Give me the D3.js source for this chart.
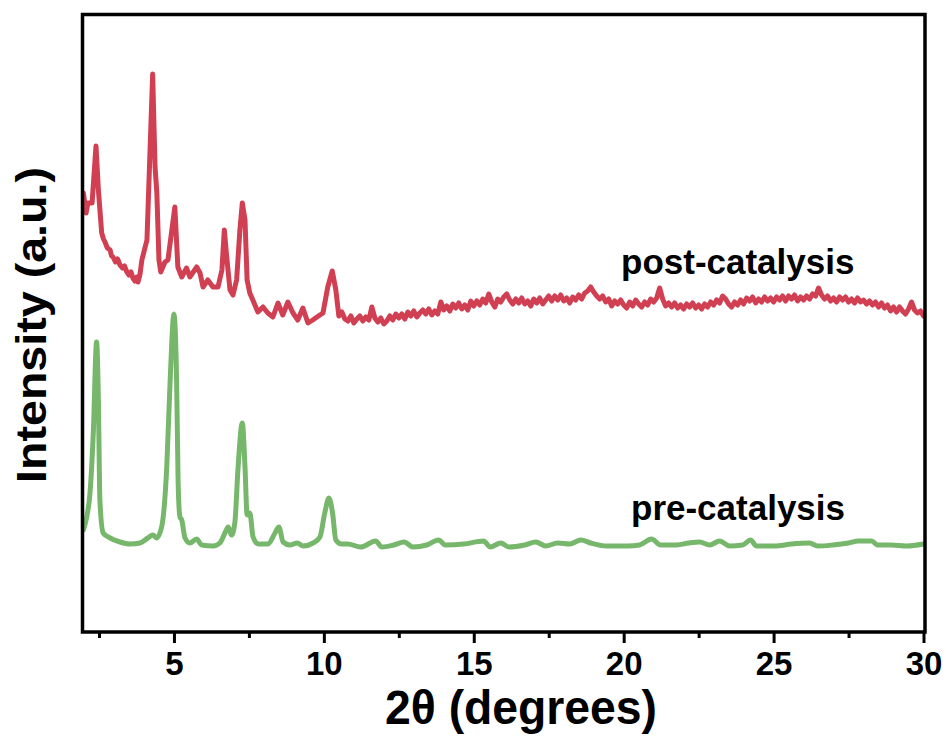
<!DOCTYPE html>
<html>
<head>
<meta charset="utf-8">
<script src="https://cdn.jsdelivr.net/npm/d3@7"></script>
<style>
  html, body { margin: 0; padding: 0; background: #fff; }
  svg { display: block; }
  text { font-family: "Liberation Sans", Arial, Helvetica, sans-serif; font-weight: bold; fill: #000; }
</style>
</head>
<body>
<svg id="chart" width="946" height="738"></svg>
<script>
// ---- Data ----
const postTheta = [1.98,2.07,2.13,2.27,2.40,2.48,2.59,2.65,2.70,2.78,2.87,2.92,2.97,3.05,3.12,3.20,3.28,3.35,3.43,3.50,3.57,3.63,3.70,3.76,3.80,3.87,3.93,4.10,4.29,4.37,4.43,4.50,4.56,4.70,4.80,5.03,5.13,5.26,5.42,5.53,5.76,5.87,5.97,6.13,6.30,6.47,6.60,6.68,6.76,6.87,6.97,7.09,7.20,7.28,7.37,7.44,7.53,7.63,7.80,7.97,8.13,8.30,8.47,8.63,8.80,8.97,9.13,9.30,9.47,9.63,9.77,9.97,10.13,10.28,10.40,10.50,10.6,10.7,10.8,10.9,11.0,11.1,11.2,11.3,11.4,11.5,11.6,11.7,11.8,11.9,12.0,12.1,12.2,12.3,12.4,12.5,12.6,12.7,12.8,12.9,13.0,13.1,13.2,13.3,13.4,13.5,13.6,13.7,13.8,13.9,14.0,14.1,14.2,14.3,14.4,14.5,14.6,14.7,14.8,14.9,15.0,15.1,15.2,15.3,15.4,15.5,15.6,15.7,15.8,15.9,16.0,16.1,16.2,16.3,16.4,16.5,16.6,16.7,16.8,16.9,17.0,17.1,17.2,17.3,17.4,17.5,17.6,17.7,17.8,17.9,18.0,18.1,18.2,18.3,18.4,18.5,18.6,18.7,18.8,18.9,19.0,19.1,19.2,19.3,19.4,19.5,19.6,19.7,19.8,19.9,20.0,20.1,20.2,20.3,20.4,20.5,20.6,20.7,20.8,20.9,21.0,21.1,21.2,21.3,21.4,21.5,21.6,21.7,21.8,21.9,22.0,22.1,22.2,22.3,22.4,22.5,22.6,22.7,22.8,22.9,23.0,23.1,23.2,23.3,23.4,23.5,23.6,23.7,23.8,23.9,24.0,24.1,24.2,24.3,24.4,24.5,24.6,24.7,24.8,24.9,25.0,25.1,25.2,25.3,25.4,25.5,25.6,25.7,25.8,25.9,26.0,26.1,26.2,26.3,26.4,26.5,26.6,26.7,26.8,26.9,27.0,27.1,27.2,27.3,27.4,27.5,27.6,27.7,27.8,27.9,28.0,28.1,28.2,28.3,28.4,28.5,28.6,28.7,28.8,28.9,29.0,29.1,29.2,29.3,29.4,29.5,29.6,29.7,29.8,29.9,30.0];
const postIntensity = [439,419,429,429,486,442,399,393,390,384,382,376,375,370,373,367,364,366,360,357,360,354,351,355,350,358,372,392,558,465,439,372,360,370,372,425,365,355,364,355,365,359,345,352,345,345,362,402,375,342,337,352,402,429,412,352,339,332,320,325,319,315,329,317,330,319,312,324,309,312,315,319,345,361,342,316,320,313,311,316,309,313,316,311,315,312,325,314,310,314,308,311,316,312,318,314,318,313,320,316,321,315,319,322,318,323,317,321,318,330,322,326,321,328,324,329,323,327,322,331,326,331,327,333,329,338,330,325,333,330,335,338,332,328,333,329,334,328,331,326,333,329,334,328,332,336,331,336,332,337,331,334,329,335,332,337,333,339,341,345,340,336,333,336,330,333,326,331,328,332,327,324,330,326,332,328,325,330,327,333,330,334,344,333,326,329,325,329,324,327,323,328,325,329,324,327,323,328,325,330,327,332,329,336,333,328,325,330,327,332,328,334,331,335,329,333,330,335,331,334,330,335,332,336,331,336,333,337,331,335,332,336,333,338,336,344,337,333,336,331,334,330,335,332,335,330,333,329,334,330,332,328,331,327,330,325,329,324,327,321,325,320,325,321,318,323,330,322,319,321,316];

const preTheta = [1.98,2.09,2.20,2.31,2.42,2.48,2.53,2.64,2.87,3.20,3.53,3.87,4.13,4.30,4.42,4.59,4.76,4.87,5.00,5.09,5.14,5.20,5.26,5.37,5.53,5.76,5.92,6.31,6.53,6.70,6.81,6.92,7.03,7.14,7.28,7.37,7.44,7.53,7.64,7.81,8.14,8.37,8.50,8.64,8.87,9.11,9.31,9.64,9.87,10.03,10.17,10.29,10.40,10.59,10.80,11.23,11.73,11.93,12.33,12.68,12.97,13.43,13.83,14.05,14.67,15.33,15.55,15.90,16.17,16.70,17.07,17.40,17.80,18.20,18.57,18.90,19.43,20.13,20.53,20.93,21.23,21.77,22.17,22.53,22.87,23.20,23.53,23.97,24.23,24.43,25.03,25.60,26.20,26.47,26.97,27.50,27.83,28.27,28.47,28.93,29.43,30.00];
const preIntensity = [102,115,139,199,290,232,132,99,94,90,88,89,94,97,94,105,165,249,318,249,149,115,112,94,89,93,87,86,89,99,105,97,109,165,209,165,117,119,95,88,88,99,105,90,87,89,86,89,95,119,134,119,92,88,88,85,91,85,87,90,85,87,92,87,88,91,85,89,85,87,90,86,89,88,92,89,86,86,87,93,87,87,89,90,87,91,86,87,92,86,86,88,89,86,87,89,91,91,87,87,86,88];

const xMajorTicks = [5, 10, 15, 20, 25, 30];
const xMinorTicks = [2.5, 7.5, 12.5, 17.5, 22.5, 27.5];
const seriesNames = ["post-catalysis", "pre-catalysis"];
const seriesColors = ["#d03f52", "#76b76c"];
const xTitle = "2θ (degrees)";
const yTitle = "Intensity (a.u.)";

// ---- Layout ----
const svg = d3.select("#chart");
const plot = { left: 82.5, right: 925, top: 14.5, bottom: 632 };

const x = d3.scaleLinear().domain([1.95, 30.05]).range([plot.left, plot.right]);
const y = d3.scaleLinear().domain([0, 617.5]).range([plot.bottom, plot.top]);

svg.append("defs").append("clipPath").attr("id", "clip")
  .append("rect")
  .attr("x", plot.left).attr("y", plot.top)
  .attr("width", plot.right - plot.left).attr("height", plot.bottom - plot.top);

const g = svg.append("g").attr("clip-path", "url(#clip)");

const postData = postTheta.map((t, i) => [t, postIntensity[i]]);
const preData = preTheta.map((t, i) => [t, preIntensity[i]]);

const lineLinear = d3.line().x(d => x(d[0])).y(d => y(d[1])).curve(d3.curveLinear);
const lineSmooth = d3.line().x(d => x(d[0])).y(d => y(d[1])).curve(d3.curveMonotoneX);

g.append("path").datum(preData)
  .attr("d", lineSmooth)
  .attr("fill", "none").attr("stroke", seriesColors[1])
  .attr("stroke-width", 5).attr("stroke-linejoin", "round").attr("stroke-linecap", "round");

g.append("path").datum(postData)
  .attr("d", lineLinear)
  .attr("fill", "none").attr("stroke", seriesColors[0])
  .attr("stroke-width", 5).attr("stroke-linejoin", "round").attr("stroke-linecap", "round");

// ---- Axes ----
const xAxisMajor = d3.axisBottom(x).tickValues(xMajorTicks).tickSize(11).tickPadding(9).tickFormat(d3.format("d"));
const xAxisMinor = d3.axisBottom(x).tickValues(xMinorTicks).tickSize(6).tickFormat("");

const gMinor = svg.append("g").attr("transform", `translate(0,${plot.bottom})`).call(xAxisMinor);
gMinor.select(".domain").remove();
gMinor.selectAll(".tick line").attr("stroke", "#000").attr("stroke-width", 3);

const gMajor = svg.append("g").attr("transform", `translate(0,${plot.bottom})`).call(xAxisMajor);
gMajor.select(".domain").remove();
gMajor.selectAll(".tick line").attr("stroke", "#000").attr("stroke-width", 3);
gMajor.selectAll(".tick text")
  .attr("font-size", 33)
  .attr("font-family", "'Liberation Sans', Arial, sans-serif")
  .attr("font-weight", "bold")
  .attr("fill", "#000");

// frame
svg.append("rect")
  .attr("x", plot.left).attr("y", plot.top)
  .attr("width", plot.right - plot.left).attr("height", plot.bottom - plot.top)
  .attr("fill", "none").attr("stroke", "#000").attr("stroke-width", 3.5);

// ---- Titles ----
svg.append("text")
  .attr("x", 521).attr("y", 724)
  .attr("text-anchor", "middle")
  .attr("font-size", 48)
  .attr("textLength", 272).attr("lengthAdjust", "spacingAndGlyphs")
  .text(xTitle);

svg.append("text")
  .attr("transform", `translate(46,325) rotate(-90)`)
  .attr("text-anchor", "middle")
  .attr("font-size", 42)
  .attr("textLength", 316).attr("lengthAdjust", "spacingAndGlyphs")
  .text(yTitle);

// ---- Series labels ----
svg.append("text").attr("x", 621).attr("y", 274).attr("font-size", 35).text(seriesNames[0]);
svg.append("text").attr("x", 631).attr("y", 520).attr("font-size", 35).text(seriesNames[1]);
</script>
</body>
</html>
